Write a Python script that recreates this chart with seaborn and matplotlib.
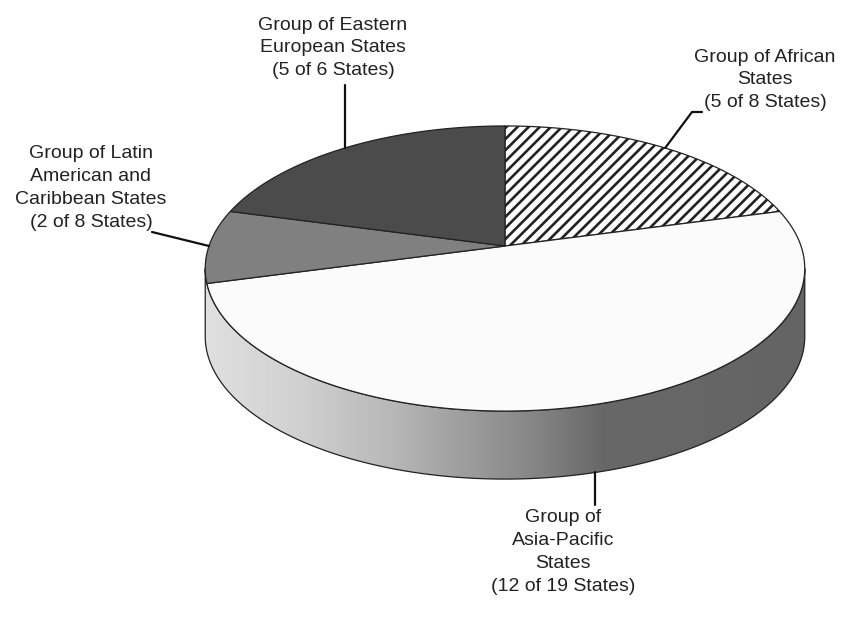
import numpy as np
import matplotlib.pyplot as plt
import seaborn as sns
from matplotlib.patches import Polygon
from matplotlib.colors import LinearSegmentedColormap

# data
names = ["Group of African\nStates", "Group of\nAsia-Pacific\nStates",
         "Group of Latin\nAmerican and\nCaribbean States", "Group of Eastern\nEuropean States"]
seats = [5, 12, 2, 5]
members = [8, 19, 8, 6]

fills = ["white", "#fbfbfb", "#808080", "#4b4b4b"]
hatches = ["///", None, None, None]

sns.set_theme(style="white")
plt.rcParams["font.family"] = ["Liberation Sans", "DejaVu Sans"]
plt.rcParams["hatch.linewidth"] = 1.9

# fake 3d geometry (pixel units)
cx, cy = 505, 246
R, RY = 296, 139
persp = 0.158
depth = 68


def proj(theta, drop=0.0):
    s, c = np.sin(theta), np.cos(theta)
    k = 1 + persp * s
    return np.column_stack([cx + R * c / k, cy - RY * s / k + drop])


fig = plt.figure(figsize=(8.54, 6.26), dpi=100)
ax = fig.add_axes([0, 0, 1, 1])

# side band (front part only)
lim = np.arcsin(persp)
th = np.linspace(np.pi + lim, 2 * np.pi - lim, 200)
side = np.vstack([proj(th), proj(th[::-1], depth)])
side_patch = Polygon(side, closed=True, facecolor="none", edgecolor="#222222", lw=0.9, zorder=3)
ax.add_patch(side_patch)

grad_cmap = LinearSegmentedColormap.from_list(
    "side", [(0, "#e0e0e0"), (0.16, "#d0d0d0"), (0.32, "#b6b6b6"), (0.42, "#a0a0a0"),
             (0.54, "#888888"), (0.66, "#686868"), (1, "#646464")])
x0, x1 = side[:, 0].min(), side[:, 0].max()
y0, y1 = side[:, 1].min(), side[:, 1].max()
im = ax.imshow(np.linspace(0, 1, 256).reshape(1, -1), cmap=grad_cmap, aspect="auto",
               extent=(x0, x1, y1, y0), zorder=2)
im.set_clip_path(side_patch)

# top face wedges, clockwise from 12 o'clock
ends = np.pi / 2 - 2 * np.pi * np.cumsum(seats) / sum(seats)
starts = np.r_[np.pi / 2, ends[:-1]]
mids = (starts + ends) / 2
for a0, a1, fc, hp in zip(starts, ends, fills, hatches):
    arc = proj(np.linspace(a0, a1, 120))
    pts = np.vstack([[cx, cy], arc])
    ax.add_patch(Polygon(pts, closed=True, facecolor=fc, hatch=hp,
                         edgecolor="#222222", lw=0.9, zorder=4))

# labels and leader lines
labels = [f"{n}\n({s} of {m} States)" for n, s, m in zip(names, seats, members)]
label_pos = [(765, 80), (563, 552), (91, 188), (333, 48)]
elbows = [[(692, 112), (702, 112)], [(595, 505)], [(152, 232)], [(345, 85)]]
for i, (lab, (lx, ly), el) in enumerate(zip(labels, label_pos, elbows)):
    anchor = proj(np.array([mids[i]]), depth if i == 1 else 0)[0]
    line = np.vstack([anchor, el])
    if i in (1, 3):
        line[1:, 0] = anchor[0]
    ax.plot(line[:, 0], line[:, 1], color="#111111", lw=1.6, zorder=5)
    ax.text(lx, ly, lab, ha="center", va="center", fontsize=14, color="#222222",
            linespacing=1.45, zorder=6)

ax.set_xlim(0, 854)
ax.set_ylim(626, 0)
ax.axis("off")
fig.savefig("out.png", dpi=100, facecolor="white")
